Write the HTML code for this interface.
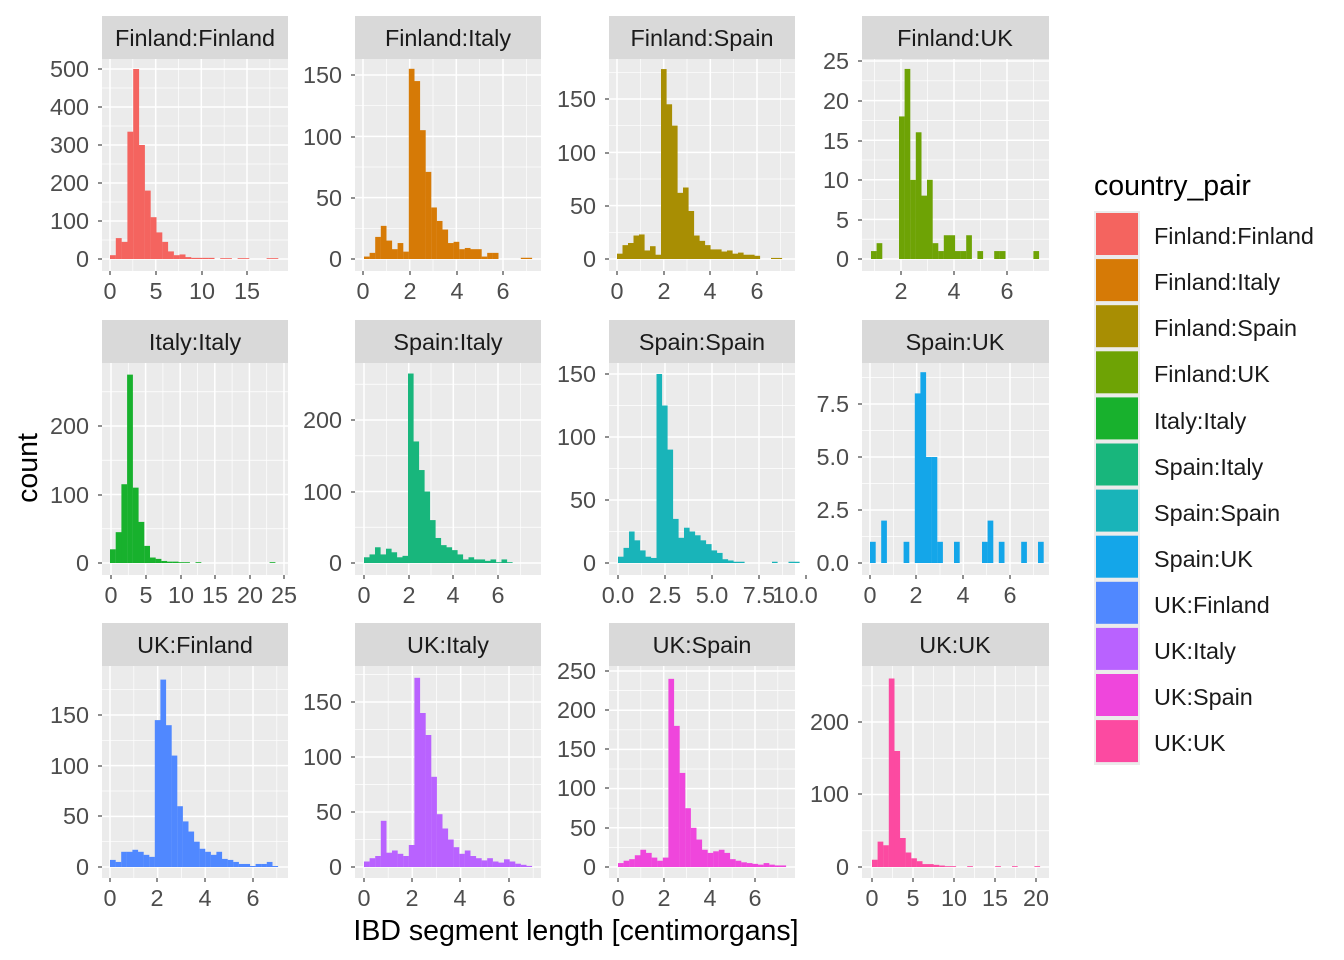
<!DOCTYPE html>
<html><head><meta charset="utf-8"><style>
body{margin:0;background:#fff}
svg{display:block}
text{font-family:"Liberation Sans",Arial,sans-serif}
.yl{font-size:23.4px;fill:#4d4d4d;text-anchor:end}
.xl{font-size:23.4px;fill:#4d4d4d;text-anchor:middle}
.st{font-size:23.4px;fill:#1a1a1a;text-anchor:middle}
.lg{font-size:23.4px;fill:#1a1a1a}
</style></head><body>
<svg id="s" width="1344" height="960" xmlns="http://www.w3.org/2000/svg">
<g id="g"></g>
<text class="st" x="195" y="46">Finland:Finland</text>
<text class="st" x="448" y="46">Finland:Italy</text>
<text class="st" x="702" y="46">Finland:Spain</text>
<text class="st" x="955" y="46">Finland:UK</text>
<text class="st" x="195" y="350">Italy:Italy</text>
<text class="st" x="448" y="350">Spain:Italy</text>
<text class="st" x="702" y="350">Spain:Spain</text>
<text class="st" x="955" y="350">Spain:UK</text>
<text class="st" x="195" y="653">UK:Finland</text>
<text class="st" x="448" y="653">UK:Italy</text>
<text class="st" x="702" y="653">UK:Spain</text>
<text class="st" x="955" y="653">UK:UK</text>
<text class="yl" x="89" y="267">0</text><text class="yl" x="89" y="229">100</text><text class="yl" x="89" y="191">200</text><text class="yl" x="89" y="153">300</text><text class="yl" x="89" y="115">400</text><text class="yl" x="89" y="77">500</text>
<text class="yl" x="342" y="267">0</text><text class="yl" x="342" y="206">50</text><text class="yl" x="342" y="145">100</text><text class="yl" x="342" y="83">150</text>
<text class="yl" x="596" y="267">0</text><text class="yl" x="596" y="214">50</text><text class="yl" x="596" y="161">100</text><text class="yl" x="596" y="107">150</text>
<text class="yl" x="849" y="267">0</text><text class="yl" x="849" y="228">5</text><text class="yl" x="849" y="188">10</text><text class="yl" x="849" y="149">15</text><text class="yl" x="849" y="109">20</text><text class="yl" x="849" y="69">25</text>
<text class="yl" x="89" y="571">0</text><text class="yl" x="89" y="503">100</text><text class="yl" x="89" y="434">200</text>
<text class="yl" x="342" y="571">0</text><text class="yl" x="342" y="500">100</text><text class="yl" x="342" y="428">200</text>
<text class="yl" x="596" y="571">0</text><text class="yl" x="596" y="508">50</text><text class="yl" x="596" y="445">100</text><text class="yl" x="596" y="382">150</text>
<text class="yl" x="849" y="571">0.0</text><text class="yl" x="849" y="518">2.5</text><text class="yl" x="849" y="465">5.0</text><text class="yl" x="849" y="412">7.5</text>
<text class="yl" x="89" y="875">0</text><text class="yl" x="89" y="824">50</text><text class="yl" x="89" y="774">100</text><text class="yl" x="89" y="723">150</text>
<text class="yl" x="342" y="875">0</text><text class="yl" x="342" y="820">50</text><text class="yl" x="342" y="765">100</text><text class="yl" x="342" y="710">150</text>
<text class="yl" x="596" y="875">0</text><text class="yl" x="596" y="836">50</text><text class="yl" x="596" y="796">100</text><text class="yl" x="596" y="757">150</text><text class="yl" x="596" y="718">200</text><text class="yl" x="596" y="679">250</text>
<text class="yl" x="849" y="875">0</text><text class="yl" x="849" y="802">100</text><text class="yl" x="849" y="730">200</text>
<text class="xl" x="110" y="299">0</text><text class="xl" x="156" y="299">5</text><text class="xl" x="202" y="299">10</text><text class="xl" x="247" y="299">15</text>
<text class="xl" x="363" y="299">0</text><text class="xl" x="410" y="299">2</text><text class="xl" x="457" y="299">4</text><text class="xl" x="503" y="299">6</text>
<text class="xl" x="617" y="299">0</text><text class="xl" x="664" y="299">2</text><text class="xl" x="710" y="299">4</text><text class="xl" x="757" y="299">6</text>
<text class="xl" x="901" y="299">2</text><text class="xl" x="954" y="299">4</text><text class="xl" x="1007" y="299">6</text>
<text class="xl" x="111" y="603">0</text><text class="xl" x="146" y="603">5</text><text class="xl" x="181" y="603">10</text><text class="xl" x="215" y="603">15</text><text class="xl" x="250" y="603">20</text><text class="xl" x="284" y="603">25</text>
<text class="xl" x="364" y="603">0</text><text class="xl" x="409" y="603">2</text><text class="xl" x="453" y="603">4</text><text class="xl" x="498" y="603">6</text>
<text class="xl" x="618" y="603">0.0</text><text class="xl" x="665" y="603">2.5</text><text class="xl" x="712" y="603">5.0</text><text class="xl" x="759" y="603">7.5</text><text class="xl" x="795" y="603">10.0</text>
<text class="xl" x="870" y="603">0</text><text class="xl" x="916" y="603">2</text><text class="xl" x="963" y="603">4</text><text class="xl" x="1010" y="603">6</text>
<text class="xl" x="110" y="906">0</text><text class="xl" x="157" y="906">2</text><text class="xl" x="205" y="906">4</text><text class="xl" x="253" y="906">6</text>
<text class="xl" x="364" y="906">0</text><text class="xl" x="412" y="906">2</text><text class="xl" x="460" y="906">4</text><text class="xl" x="509" y="906">6</text>
<text class="xl" x="618" y="906">0</text><text class="xl" x="664" y="906">2</text><text class="xl" x="710" y="906">4</text><text class="xl" x="755" y="906">6</text>
<text class="xl" x="872" y="906">0</text><text class="xl" x="913" y="906">5</text><text class="xl" x="954" y="906">10</text><text class="xl" x="995" y="906">15</text><text class="xl" x="1036" y="906">20</text>
<text x="576" y="940" style="font-size:28.5px;fill:#000;text-anchor:middle">IBD segment length [centimorgans]</text>
<text transform="translate(37,468) rotate(-90)" style="font-size:28.5px;fill:#000;text-anchor:middle">count</text>
<text x="1094" y="195" style="font-size:28.5px;fill:#000">country_pair</text>
<text class="lg" x="1154" y="244">Finland:Finland</text>
<text class="lg" x="1154" y="290">Finland:Italy</text>
<text class="lg" x="1154" y="336">Finland:Spain</text>
<text class="lg" x="1154" y="382">Finland:UK</text>
<text class="lg" x="1154" y="429">Italy:Italy</text>
<text class="lg" x="1154" y="475">Spain:Italy</text>
<text class="lg" x="1154" y="521">Spain:Spain</text>
<text class="lg" x="1154" y="567">Spain:UK</text>
<text class="lg" x="1154" y="613">UK:Finland</text>
<text class="lg" x="1154" y="659">UK:Italy</text>
<text class="lg" x="1154" y="705">UK:Spain</text>
<text class="lg" x="1154" y="751">UK:UK</text>
</svg>
<script>
(function(){
var NS="http://www.w3.org/2000/svg";
var G=document.getElementById("g");
var C=["#F4645F","#D67A06","#A88E03","#6EA305","#18B12D","#18B67C","#19B4B9","#14A6E9","#5088FF","#B962FF","#EF46DC","#FC4AA1"];
var cols=[[102,288],[355,541],[609,795],[862,1049]],rows=[[59,271],[363,575],[666,878]];
var P=[
{z:259,k:0.38,s:110,w:5.8,xt:[110,156,202,247],yt:[259,221,183,145,107,69],c:[10,55,45,335,500,300,180,110,70,45,20,10,12,5,3,3,3,3,0,1,1,0,1,1,0,0,0,1,1]},
{z:259,k:1.227,s:364,w:5.6,xt:[363,410,457,503],yt:[259,198,137,75],c:[2,5,18,27,15,8,13,6,155,145,105,71,42,31,24,13,14,8,9,8,8,2,5,5,0,0,0,0,1,1]},
{z:259,k:1.067,s:617,w:5.5,xt:[617,664,710,757],yt:[259,206,153,99],c:[5,13,15,22,23,8,12,4,178,145,125,62,67,45,22,17,13,9,9,7,8,5,6,4,4,3,0,0,1,1]},
{z:259,k:7.92,s:871,w:5.6,xt:[901,954,1007],yt:[259,220,180,141,101,61],c:[1,2,0,0,0,18,24,10,16,8,10,2,1,3,3,1,1,3,0,1,0,0,1,1,0,0,0,0,0,1]},
{z:563,k:0.685,s:110,w:5.7,xt:[111,146,181,215,250,284],yt:[563,495,426],c:[20,45,115,275,110,60,25,8,6,3,2,2,1,1,0,1,0,0,0,0,0,0,0,0,0,0,0,0,1]},
{z:563,k:0.715,s:364,w:5.5,xt:[364,409,453,498],yt:[563,492,420],c:[8,12,22,12,20,15,8,10,265,170,130,100,60,35,25,22,18,12,5,8,5,5,3,5,1,5,1,0,0]},
{z:563,k:1.26,s:618,w:5.5,xt:[618,665,712,759,806],yt:[563,500,437,374],c:[5,12,25,18,10,5,4,150,125,90,35,20,28,25,22,18,15,10,8,3,2,1,1,0,0,0,0,0,1,0,0,1,1]},
{z:563,k:21.2,s:870,w:5.6,xt:[870,916,963,1010],yt:[563,510,457,404],c:[1,0,2,0,0,0,1,0,8,9,5,5,1,0,0,1,0,0,0,0,1,2,0,1,0,0,0,1,0,0,1]},
{z:867,k:1.013,s:110,w:5.6,xt:[110,157,205,253],yt:[867,816,766,715],c:[7,5,15,15,17,15,12,10,145,185,140,110,60,45,35,25,18,15,12,15,8,7,5,3,3,1,3,3,5,1]},
{z:867,k:1.1,s:364,w:5.6,xt:[364,412,460,509],yt:[867,812,757,702],c:[5,8,10,42,13,15,12,10,20,172,140,120,82,48,35,25,18,12,15,10,8,6,8,5,4,7,5,3,2,1]},
{z:867,k:0.784,s:618,w:5.6,xt:[618,664,710,755],yt:[867,828,788,749,710,671],c:[5,8,10,15,22,18,12,8,12,240,180,120,75,50,35,22,18,20,22,18,10,8,6,5,4,3,5,3,2,2]},
{z:867,k:0.725,s:872,w:5.6,xt:[872,913,954,995,1036],yt:[867,794,722],c:[10,35,30,260,160,40,20,12,8,4,4,3,2,1,1,0,0,1,0,0,0,0,1,0,0,1,0,0,0,1]}
];
function el(n,a){var e=document.createElementNS(NS,n);for(var k in a)e.setAttribute(k,a[k]);G.appendChild(e);}
function R(x,y,w,h,f){el("rect",{x:x,y:y,width:w,height:h,fill:f});}
function L(x1,y1,x2,y2,c,w){el("line",{x1:x1,y1:y1,x2:x2,y2:y2,stroke:c,"stroke-width":w});}
P.forEach(function(p,i){
 var X=cols[i%4],Y=rows[Math.floor(i/4)];
 R(X[0],Y[0]-43,X[1]-X[0],43,"#d9d9d9");
 R(X[0],Y[0],X[1]-X[0],Y[1]-Y[0],"#ebebeb");
 function grid(t0,a0,a1,vert){
  var t=t0.slice().sort(function(a,b){return a-b;});
  var d=t.length>1?(t[t.length-1]-t[0])/(t.length-1):53;
  var mn=[],mj=[];
  for(var v=t[0]-d*10;v<a1+1;v+=d){mj.push(v);mn.push(v+d/2);}
  mn.forEach(function(v){if(v>a0&&v<a1){vert?L(v,Y[0],v,Y[1],"#fff",0.7):L(X[0],v,X[1],v,"#fff",0.7);}});
  mj.forEach(function(v){if(v>=a0&&v<=a1){vert?L(v,Y[0],v,Y[1],"#fff",1.5):L(X[0],v,X[1],v,"#fff",1.5);}});
 }
 grid(p.yt,Y[0],Y[1],false);grid(p.xt,X[0],X[1],true);
 p.c.forEach(function(c,j){if(c>0){var h=c*p.k;if(h<0.8)h=0.8;R((p.s+j*p.w).toFixed(2),(p.z-h).toFixed(2),(p.w+0.1).toFixed(2),h.toFixed(2),C[i]);}});
 p.yt.forEach(function(v){L(X[0]-4,v,X[0],v,"#333",1.1);});
 p.xt.forEach(function(v){L(v,Y[1],v,Y[1]+4,"#333",1.1);});
});
R(1094,211,46,554,"#ebebeb");
C.forEach(function(c,i){R(1096,213+i*46.1,42,42,c);});
})();
</script>
</body></html>
